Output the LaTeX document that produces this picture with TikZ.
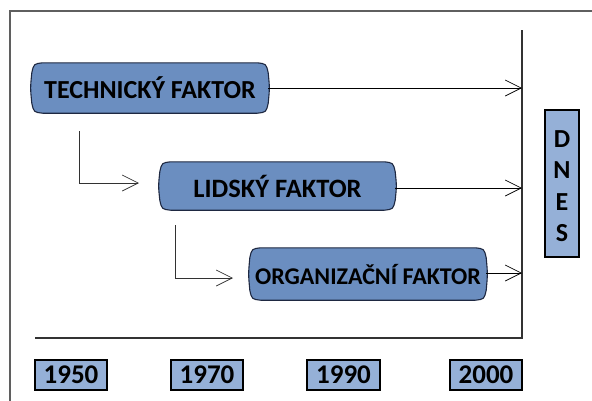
\documentclass[tikz,border=0pt]{standalone}
\usepackage{fontspec}
\setmainfont{Carlito}
\usetikzlibrary{arrows.meta,backgrounds}
\definecolor{factfill}{RGB}{107,142,192}
\definecolor{yearfill}{RGB}{149,176,215}
\definecolor{nodeedge}{RGB}{30,40,65}
\definecolor{framegray}{RGB}{95,95,95}
\definecolor{axisgray}{RGB}{50,50,50}
\begin{document}
\begin{tikzpicture}[x=1pt,y=-1pt,
  factor/.style={minimum width=236pt, minimum height=50pt, inner sep=0pt,
    font=\bfseries\fontsize{26}{26}\selectfont},
  yearbox/.style={draw=black, line width=1.3pt, fill=yearfill, minimum width=72pt,
    minimum height=30pt, inner sep=0pt, font=\bfseries\fontsize{27}{27}\selectfont},
  dnesbox/.style={draw=black, line width=1.2pt, fill=yearfill, minimum width=34pt,
    minimum height=147pt, inner sep=0pt},
  dnesletter/.style={font=\bfseries\fontsize{26}{26}\selectfont, inner sep=0pt},
  blob/.style={draw=nodeedge, line width=1.1pt, fill=factfill},
  conn/.style={draw=black, line width=1pt},
  elbow/.style={draw=axisgray, line width=0.9pt},
  tip/.style={-{Straight Barb[length=16pt,width=16pt,line width=0.7pt]}}
]
\useasboundingbox (0,0) rectangle (592,400);
\clip (0,0) rectangle (592,400);
% frame
\draw[framegray, line width=1.6pt] (10,405) -- (10,11) -- (600,11);
% axes
\coordinate (axtop) at (522,30);
\coordinate (axcorner) at (522,338);
\coordinate (axleft) at (35,338);
\draw[axisgray, line width=1.2pt] (axtop) -- (axcorner) -- (axleft);

% factor nodes
\node[factor] (T) at (150,88) {TECHNICKÝ FAKTOR};
\node[factor, minimum height=48pt, minimum width=235pt,
  font=\bfseries\fontsize{26.5}{26.5}\selectfont] (L) at (277.5,186) {LIDSKÝ FAKTOR};
\node[factor, minimum height=52pt,
  font=\bfseries\fontsize{24}{24}\selectfont] (O) at (368,274) {ORGANIZAČNÍ FAKTOR};

\begin{scope}[on background layer]
\foreach \n in {T,L,O}{
  \path[blob] ([xshift=11pt]\n.north west) -- ([xshift=-11pt]\n.north east)
    .. controls ([xshift=-2pt,yshift=-1pt]\n.north east) .. ([yshift=-10pt]\n.north east)
    .. controls ([xshift=1.5pt]\n.east) .. ([yshift=10pt]\n.south east)
    .. controls ([xshift=-2pt,yshift=1pt]\n.south east) .. ([xshift=-11pt]\n.south east)
    -- ([xshift=11pt]\n.south west)
    .. controls ([xshift=2pt,yshift=1pt]\n.south west) .. ([yshift=10pt]\n.south west)
    .. controls ([xshift=-1.5pt]\n.west) .. ([yshift=-10pt]\n.north west)
    .. controls ([xshift=2pt,yshift=-1pt]\n.north west) .. cycle;
}
\end{scope}

% arrows to today line
\coordinate (eT) at (522,88);
\coordinate (eL) at (522,188);
\coordinate (eO) at (522,273);
\draw[conn, tip] (T.east) -- (eT);
\draw[conn, tip] (L.east |- eL) -- (eL);
\draw[conn, tip] (O.east |- eO) -- (eO);

% elbow connectors
\coordinate (s1) at (79,131);
\coordinate (e1) at (139,183);
\coordinate (s2) at (175,225);
\coordinate (e2) at (233,278);
\draw[elbow, tip] (s1) |- (e1);
\draw[elbow, tip] (s2) |- (e2);

% DNES
\node[dnesbox] (D) at (562,183.5) {};
\node[dnesletter] (d1) at (562,139) {D};
\node[dnesletter] (d2) at (562,170) {N};
\node[dnesletter] (d3) at (562,202) {E};
\node[dnesletter] (d4) at (562,233) {S};

% years
\node[yearbox] (y1) at (71,375) {1950};
\node[yearbox] (y2) at (207,375) {1970};
\node[yearbox, minimum width=73pt] (y3) at (343.5,375) {1990};
\node[yearbox] (y4) at (486,375) {2000};
\end{tikzpicture}
\end{document}
